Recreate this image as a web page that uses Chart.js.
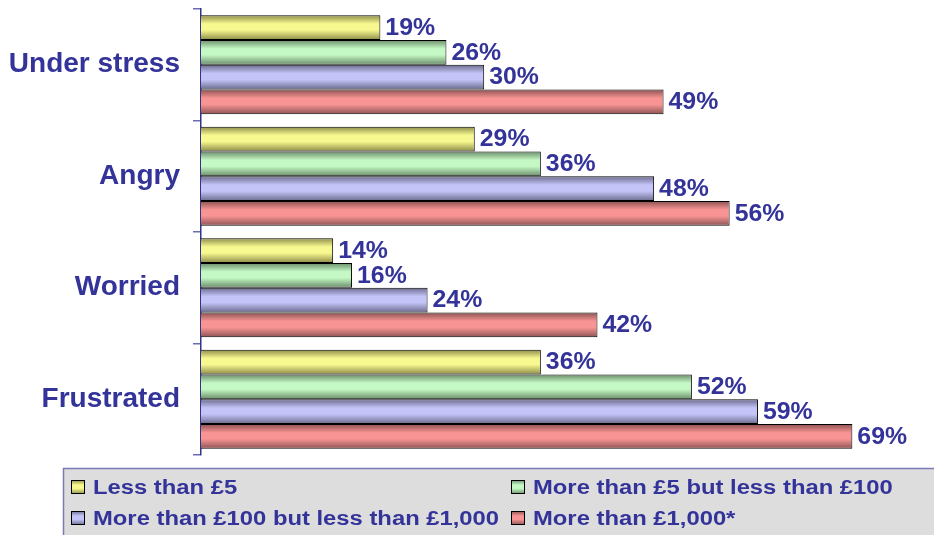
<!DOCTYPE html>
<html>
<head>
    <title>Feelings by amount</title>
    <script src="https://cdn.jsdelivr.net/npm/chart.js"></script>
    <style>
        body {
            margin: 0;
            background-color: #ffffff;
        }
        #wrap {
            width: 934px;
            height: 535px;
            position: relative;
        }
    </style>
</head>
<body>
    <div id="wrap">
        <canvas id="feelingsChart" width="934" height="535"></canvas>
    </div>

    <script>
        var categories = ["Under stress", "Angry", "Worried", "Frustrated"];
        var seriesNames = [
            "Less than £5",
            "More than £5 but less than £100",
            "More than £100 but less than £1,000",
            "More than £1,000*"
        ];
        var lessThan5 = [19, 29, 14, 36];
        var from5To100 = [26, 36, 16, 52];
        var from100To1000 = [30, 48, 24, 59];
        var moreThan1000 = [49, 56, 42, 69];

        var textColor = '#333399';
        var fontName = '"Liberation Sans", Arial, sans-serif';
        var groupShare = 0.89;

        // light colour in the middle of the bar, dark colour at its edges
        var barColors = [
            { light: '#f8f890', dark: '#8c8c48' },
            { light: '#c4f8c4', dark: '#6a8c6a' },
            { light: '#c4c4f8', dark: '#6a6a8c' },
            { light: '#f89494', dark: '#8c5252' }
        ];

        function makeGradient(ctx, top, bottom, c) {
            var g = ctx.createLinearGradient(0, top, 0, bottom);
            g.addColorStop(0, c.dark);
            g.addColorStop(0.35, c.light);
            g.addColorStop(0.6, c.light);
            g.addColorStop(1, c.dark);
            return g;
        }

        // shaded fill worked out from where the bar sits on the y scale
        function barFill(context) {
            var c = barColors[context.datasetIndex];
            var ys = context.chart.scales.y;
            if (context.type !== 'data' || !ys || !ys.height) {
                return c.light;
            }
            var catH = ys.height / categories.length;
            var group = catH * groupShare;
            var thick = group / seriesNames.length;
            var top = ys.getPixelForValue(context.dataIndex) - group / 2 + context.datasetIndex * thick;
            return makeGradient(context.chart.ctx, top, top + thick, c);
        }

        // value labels at the end of each bar
        var valuePlugin = {
            id: 'values',
            afterDatasetsDraw: function (chart) {
                var ctx = chart.ctx;
                ctx.save();
                ctx.fillStyle = textColor;
                ctx.font = 'bold 23px ' + fontName;
                ctx.textBaseline = 'middle';
                ctx.textAlign = 'left';
                chart.data.datasets.forEach(function (ds, i) {
                    chart.getDatasetMeta(i).data.forEach(function (bar, j) {
                        ctx.save();
                        ctx.translate(bar.x + 5, bar.y + 1);
                        ctx.scale(1.08, 1);
                        ctx.fillText(ds.data[j] + '%', 0, 0);
                        ctx.restore();
                    });
                });
                ctx.restore();
            }
        };

        // grey legend box under the plot, two columns
        var legendPlugin = {
            id: 'boxLegend',
            afterDraw: function (chart) {
                var ctx = chart.ctx;
                ctx.save();
                ctx.fillStyle = '#dddddd';
                ctx.fillRect(63, 468, 880, 80);
                ctx.strokeStyle = '#7a7ab8';
                ctx.lineWidth = 1.5;
                ctx.strokeRect(63.5, 468.5, 880, 80);

                var cols = [71, 511];
                var rows = [480, 511];
                ctx.font = 'bold 20px ' + fontName;
                ctx.textBaseline = 'middle';
                chart.data.datasets.forEach(function (ds, i) {
                    var x = cols[i % 2];
                    var y = rows[Math.floor(i / 2)];
                    ctx.fillStyle = makeGradient(ctx, y, y + 14, barColors[i]);
                    ctx.fillRect(x, y, 14, 14);
                    ctx.strokeStyle = '#000000';
                    ctx.lineWidth = 1;
                    ctx.strokeRect(x + 0.5, y + 0.5, 13, 13);
                    ctx.save();
                    ctx.translate(x + 22, y + 8);
                    ctx.scale(1.19, 1);
                    ctx.fillStyle = textColor;
                    ctx.fillText(ds.label, 0, 0);
                    ctx.restore();
                });
                ctx.restore();
            }
        };

        var seriesValues = [lessThan5, from5To100, from100To1000, moreThan1000];

        var feelingsChart = new Chart(document.getElementById('feelingsChart').getContext('2d'), {
            type: 'bar',
            data: {
                labels: categories,
                datasets: seriesNames.map(function (name, i) {
                    return {
                        label: name,
                        data: seriesValues[i],
                        backgroundColor: barFill,
                        borderColor: '#000000',
                        borderWidth: 1,
                        borderSkipped: 'start',
                        categoryPercentage: groupShare,
                        barPercentage: 1.0
                    };
                })
            },
            options: {
                indexAxis: 'y',
                responsive: false,
                animation: false,
                layout: {
                    padding: { left: 0, right: 25, top: 9, bottom: 80 }
                },
                scales: {
                    x: {
                        display: false,
                        min: 0,
                        max: 75
                    },
                    y: {
                        afterFit: function (scale) {
                            scale.width = 201;
                            scale.paddingTop = 0;
                            scale.paddingBottom = 0;
                        },
                        border: {
                            display: true,
                            color: '#333388',
                            width: 1.5
                        },
                        grid: {
                            drawOnChartArea: false,
                            drawTicks: true,
                            tickLength: 8,
                            color: '#6a6ab8',
                            lineWidth: 1.5
                        },
                        ticks: {
                            color: textColor,
                            padding: 13,
                            font: { family: fontName, size: 28, weight: 'bold' }
                        }
                    }
                },
                plugins: {
                    legend: { display: false },
                    tooltip: { enabled: false }
                }
            },
            plugins: [valuePlugin, legendPlugin]
        });
    </script>
</body>
</html>
